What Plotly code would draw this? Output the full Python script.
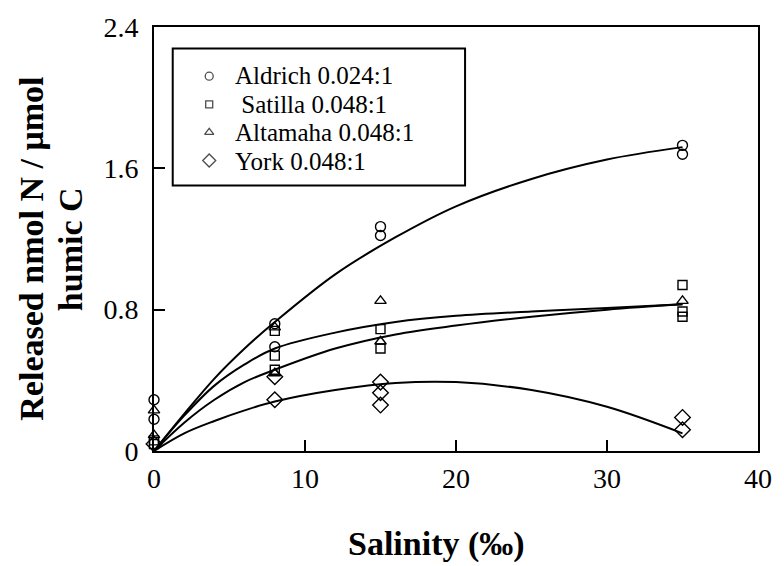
import plotly.graph_objects as go

# Measured release of N from humic material vs. salinity
aldrich_x = [0, 0, 8, 8, 15, 15, 35, 35]
aldrich_y = [0.29, 0.18, 0.72, 0.59, 1.27, 1.22, 1.73, 1.68]

satilla_x = [0, 0, 8, 8, 8, 15, 15, 35, 35, 35]
satilla_y = [0.06, 0.04, 0.68, 0.54, 0.46, 0.69, 0.58, 0.94, 0.79, 0.76]

altamaha_x = [0, 0, 8, 8, 15, 15, 35]
altamaha_y = [0.23, 0.09, 0.70, 0.44, 0.85, 0.62, 0.85]

york_x = [0, 8, 8, 15, 15, 15, 35, 35]
york_y = [0.04, 0.42, 0.29, 0.39, 0.33, 0.26, 0.19, 0.12]

# Smooth trend curves through the origin
curve_x = [0, 2, 4, 6, 8, 12, 16, 20, 25, 30, 35]
aldrich_fit = [0, 0.21, 0.41, 0.58, 0.73, 1.00, 1.21, 1.385, 1.54, 1.65, 1.72]
altamaha_fit = [0, 0.20, 0.37, 0.49, 0.58, 0.67, 0.73, 0.765, 0.79, 0.81, 0.83]
satilla_fit = [0, 0.16, 0.29, 0.39, 0.46, 0.58, 0.66, 0.71, 0.76, 0.80, 0.83]
york_fit = [0, 0.10, 0.17, 0.23, 0.28, 0.345, 0.385, 0.39, 0.345, 0.25, 0.10]

series_names = ["Aldrich 0.024:1", "&nbsp;Satilla 0.048:1", "Altamaha 0.048:1", "York 0.048:1"]
series_symbols = ["circle-open", "square-open", "triangle-up-open", "diamond-open"]
series_sizes = [10, 9, 10, 12]

x_ticks = [0, 10, 20, 30, 40]
y_ticks = [0, 0.8, 1.6, 2.4]
y_tick_text = ["0", "0.8", "1.6", "2.4"]

y_title_lines = ["Released nmol N / \u03bcmol", "humic C"]
x_title = "Salinity (\u2030)"

SERIF = "Times New Roman, Liberation Serif, serif"
INK = "black"

fig = go.Figure()

for cy in (aldrich_fit, altamaha_fit, satilla_fit, york_fit):
    fig.add_trace(go.Scatter(
        x=curve_x, y=cy, mode="lines", line=dict(color=INK, width=2, shape="spline"),
        showlegend=False, hoverinfo="skip", cliponaxis=False))

point_sets = [(aldrich_x, aldrich_y), (satilla_x, satilla_y),
              (altamaha_x, altamaha_y), (york_x, york_y)]
for (px, py), name, sym, sz in zip(point_sets, series_names, series_symbols, series_sizes):
    fig.add_trace(go.Scatter(
        x=px, y=py, mode="markers", name=name.replace("&nbsp;", ""),
        marker=dict(symbol=sym, size=sz, color=INK, line=dict(width=1.4, color=INK)),
        showlegend=False, cliponaxis=False))

# Boxed key drawn inside the plot area (paper coordinates)
PLOT_H = 430                # plot-area height in pixels (566 - 21 - 115)
KEY_LEFT, KEY_RIGHT, KEY_BOTTOM, KEY_TOP = 0.031, 0.515, 0.626, 0.949
KEY_LINE_PX = 28.5          # row pitch of the key, in pixels
KEY_TEXT_PX = 25            # glyph size of the key labels
KEY_ROW0 = 0.884
KEY_STEP = KEY_LINE_PX / PLOT_H
KEY_SYMBOL_X, KEY_TEXT_X = 0.0914, 0.130
key_rows = [KEY_ROW0 - i * KEY_STEP for i in range(len(series_names))]

fig.add_shape(type="rect", xref="paper", yref="paper",
              x0=KEY_LEFT, x1=KEY_RIGHT, y0=KEY_BOTTOM, y1=KEY_TOP,
              line=dict(color=INK, width=2), fillcolor="rgba(0,0,0,0)", layer="above")

fig.add_trace(go.Scatter(
    x=[KEY_SYMBOL_X] * len(series_names), y=key_rows, mode="markers",
    marker=dict(symbol=series_symbols, size=[s - 2 for s in series_sizes], color=INK,
                line=dict(width=1.3, color=INK)),
    xaxis="x2", yaxis="y2", showlegend=False, hoverinfo="skip", cliponaxis=False))

# Key labels as one text block: base size sets the line pitch, spans set glyph size
key_text = "<br>".join(
    "<span style='font-size:%dpx'>%s</span>" % (KEY_TEXT_PX, n) for n in series_names)
fig.add_annotation(x=KEY_TEXT_X, y=(key_rows[0] + key_rows[-1]) / 2,
                   xref="paper", yref="paper", text=key_text, align="left",
                   showarrow=False, xanchor="left", yanchor="middle",
                   font=dict(family=SERIF, size=KEY_LINE_PX / 1.3, color=INK))

# Axis titles (the y title is two rotated lines, set a little tighter than default)
for line_text, lx in zip(y_title_lines, (-0.2023, -0.137)):
    fig.add_annotation(x=lx, y=0.4767, xref="paper", yref="paper",
                       text="<b>" + line_text + "</b>",
                       textangle=-90, showarrow=False, xanchor="center", yanchor="middle",
                       font=dict(family=SERIF, size=34, color=INK))
fig.add_annotation(x=0.468, y=-0.2186, xref="paper", yref="paper",
                   text="<b>" + x_title + "</b>", showarrow=False,
                   xanchor="center", yanchor="middle",
                   font=dict(family=SERIF, size=34, color=INK))

axis_common = dict(showgrid=False, zeroline=False, showline=True, linecolor=INK,
                   linewidth=2, mirror=True, ticks="inside", ticklen=11,
                   tickwidth=1.5, tickcolor=INK,
                   tickfont=dict(family=SERIF, size=28, color=INK))

fig.update_layout(
    width=784, height=566,
    margin=dict(l=154, r=17, t=21, b=115),
    paper_bgcolor="white", plot_bgcolor="white",
    showlegend=False,
    font=dict(family=SERIF, color=INK),
    xaxis=dict(range=[0, 40], tickvals=x_ticks, ticklabelstandoff=1, **axis_common),
    yaxis=dict(range=[0, 2.4], tickvals=y_ticks, ticktext=y_tick_text,
               ticklabelstandoff=8, **axis_common),
    xaxis2=dict(range=[0, 1], overlaying="x", visible=False, domain=[0, 1]),
    yaxis2=dict(range=[0, 1], overlaying="y", visible=False, domain=[0, 1]),
)

fig.write_html("out.html")
